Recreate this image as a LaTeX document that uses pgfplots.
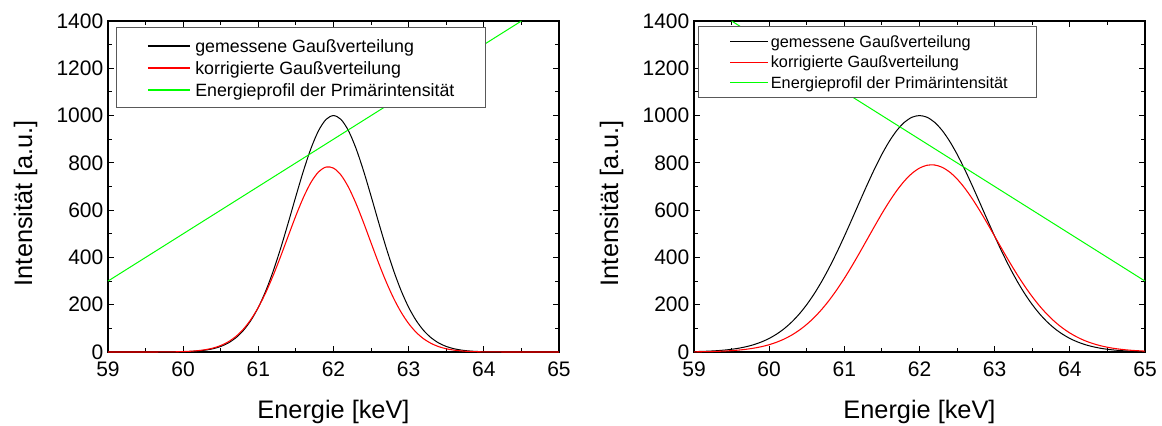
\documentclass[border=0pt]{standalone}
\usepackage{fontspec}
\setmainfont{Liberation Sans}
\usepackage{pgfplots}
\usepackage{pgfplotstable}
\pgfplotsset{compat=1.18}

\definecolor{primgreen}{RGB}{0,255,0}
\definecolor{corrred}{RGB}{255,0,0}

% measured Gaussian, primary intensity rising with energy
\pgfplotstableread{
x y
59.0 0
59.5 0
59.6 0.1
59.7 0.2
59.8 0.3
59.9 0.6
60.0 1.3
60.1 2.4
60.2 4.5
60.3 8.1
60.4 14.0
60.5 23.5
60.6 38.1
60.7 59.8
60.8 90.7
60.9 133.1
61.0 188.9
61.1 259.2
61.2 344.2
61.3 441.9
61.4 548.8
61.5 659.2
61.6 765.9
61.7 860.7
61.8 935.5
61.9 983.5
62.0 1000
62.1 983.5
62.2 935.5
62.3 860.7
62.4 765.9
62.5 659.2
62.6 548.8
62.7 441.9
62.8 344.2
62.9 259.2
63.0 188.9
63.1 133.1
63.2 90.7
63.3 59.8
63.4 38.1
63.5 23.5
63.6 14.0
63.7 8.1
63.8 4.5
63.9 2.4
64.0 1.3
64.1 0.6
64.2 0.3
64.3 0.2
64.4 0.1
64.5 0
65.0 0
}\leftmeasured

\pgfplotstableread{
x y
59.0 0
59.5 0
59.6 0.1
59.7 0.2
59.8 0.5
59.9 0.9
60.0 1.8
60.1 3.3
60.2 5.9
60.3 10.1
60.4 16.9
60.5 27.4
60.6 43.1
60.7 65.4
60.8 96.2
60.9 137.0
61.0 188.9
61.1 252.0
61.2 325.6
61.3 407.0
61.4 492.5
61.5 576.8
61.6 653.8
61.7 717.3
61.8 761.4
61.9 782.3
62.0 777.8
62.1 748.3
62.2 696.6
62.3 627.6
62.4 547.1
62.5 461.4
62.6 376.6
62.7 297.4
62.8 227.3
62.9 168.0
63.0 120.2
63.1 83.2
63.2 55.7
63.3 36.1
63.4 22.6
63.5 13.7
63.6 8.0
63.7 4.6
63.8 2.5
63.9 1.3
64.0 0.7
64.1 0.3
64.2 0.2
64.3 0.1
64.5 0
65.0 0
}\leftcorrected

\pgfplotstableread{
x y
59.0 300
64.5 1400
}\leftprimary

% measured Gaussian, primary intensity falling with energy
\pgfplotstableread{
x y
59.0 1.6
59.1 2.5
59.2 3.7
59.3 5.5
59.4 8.0
59.5 11.5
59.6 16.3
59.7 22.9
59.8 31.5
59.9 42.9
60.0 57.4
60.1 75.9
60.2 98.8
60.3 126.9
60.4 160.6
60.5 200.5
60.6 246.6
60.7 299.1
60.8 357.5
60.9 421.4
61.0 489.5
61.1 560.7
61.2 633.1
61.3 704.7
61.4 773.2
61.5 836.5
61.6 892.0
61.7 937.7
61.8 971.8
61.9 992.9
62.0 1000
62.1 992.9
62.2 971.8
62.3 937.7
62.4 892.0
62.5 836.5
62.6 773.2
62.7 704.7
62.8 633.1
62.9 560.7
63.0 489.5
63.1 421.4
63.2 357.5
63.3 299.1
63.4 246.6
63.5 200.5
63.6 160.6
63.7 126.9
63.8 98.8
63.9 75.9
64.0 57.4
64.1 42.9
64.2 31.5
64.3 22.9
64.4 16.3
64.5 11.5
64.6 8.0
64.7 5.5
64.8 3.7
64.9 2.5
65.0 1.6
}\rightmeasured

\pgfplotstableread{
x y
59.0 0.8
59.1 1.2
59.2 1.8
59.3 2.7
59.4 3.9
59.5 5.8
59.6 8.3
59.7 11.8
59.8 16.5
59.9 22.7
60.0 30.9
60.1 41.5
60.2 54.9
60.3 71.6
60.4 92.2
60.5 117.0
60.6 146.3
60.7 180.5
60.8 219.5
60.9 263.4
61.0 311.5
61.1 363.4
61.2 418.1
61.3 474.3
61.4 530.6
61.5 585.6
61.6 637.1
61.7 683.7
61.8 723.7
61.9 755.5
62.0 777.8
62.1 789.8
62.2 791.0
62.3 781.4
62.4 761.5
62.5 731.9
62.6 693.9
62.7 649.1
62.8 598.9
62.9 545.1
63.0 489.5
63.1 433.8
63.2 379.2
63.3 327.1
63.4 278.4
63.5 233.9
63.6 193.8
63.7 158.6
63.8 128.1
63.9 102.2
64.0 80.4
64.1 62.6
64.2 47.9
64.3 36.4
64.4 27.2
64.5 20.1
64.6 14.7
64.7 10.7
64.8 7.6
64.9 5.5
65.0 3.7
}\rightcorrected

\pgfplotstableread{
x y
59.5 1400
65.0 300
}\rightprimary

\pgfplotsset{
  spectrum/.style={
    scale only axis, width=338.25pt, height=248.25pt,
    xmin=59, xmax=65, ymin=0, ymax=1400,
    xtick={59,60,...,65}, ytick={0,200,...,1400},
    minor tick num=1,
    tick align=inside,
    major tick length=4.7pt, minor tick length=3pt,
    tick style={black, line width=0.75pt},
    axis line style={line width=1.3pt},
    /pgf/number format/assume math mode=true,
    /pgf/number format/1000 sep={},
    tick label style={font=\fontsize{15.75}{18}\selectfont},
    xticklabel style={yshift=-4pt},
    xlabel={Energie [keV]}, ylabel={Intensität [a.u.]},
    every axis x label/.style={at={(axis description cs:0.5,-0.1994)}, anchor=base,
      font=\fontsize{19}{22}\selectfont},
    every axis y label/.style={at={(axis description cs:-0.1685,0.45)}, anchor=base, rotate=90,
      font=\fontsize{19}{22}\selectfont},
    clip=false,
    legend cell align=left,
  },
  measured/.style={draw=black, line width=0.75pt, smooth, mark=none},
  corrected/.style={draw=corrred, line width=0.8pt, smooth, mark=none},
  primary/.style={draw=primgreen, line width=0.75pt, mark=none},
}

\begin{document}
\begin{tikzpicture}
\useasboundingbox (-81pt,-54.75pt) rectangle (790.5pt,264pt);

% left panel: primary intensity rising with energy
\begin{axis}[spectrum, at={(0pt,0pt)},
  legend style={at={(axis description cs:0.0177,0.981)}, anchor=north west,
    draw=black!65, line width=0.75pt, fill=white,
    inner xsep=23pt, inner ysep=5.25pt, column sep=3.75pt, row sep=0pt,
    font=\fontsize{13.35}{16}\selectfont,
    nodes={inner sep=0pt, text height=13.625pt, text depth=2.875pt}},
  legend image code/.code={\draw[#1, line width=1.1pt] (0pt,0pt) -- (31.25pt,0pt);},
]
\addplot[measured] table {\leftmeasured};
\addlegendentry{\makebox[195pt][l]{gemessene Gaußverteilung}}
\addplot[corrected] table {\leftcorrected};
\addlegendentry{\makebox[195pt][l]{korrigierte Gaußverteilung}}
\addplot[primary] table {\leftprimary};
\addlegendentry{\makebox[195pt][l]{Energieprofil der Primärintensität}}
\end{axis}

% right panel: primary intensity falling with energy
\begin{axis}[spectrum, at={(439.5pt,0pt)},
  legend style={at={(axis description cs:0.0095,0.985)}, anchor=north west,
    draw=black!65, line width=0.75pt, fill=white,
    inner xsep=23.25pt, inner ysep=4.025pt, column sep=1.5pt, row sep=0pt,
    font=\fontsize{12.2}{15}\selectfont,
    nodes={inner sep=0pt, text height=11.975pt, text depth=3.175pt}},
  legend image code/.code={\draw[#1] (0pt,0pt) -- (28.5pt,0pt);},
]
\addplot[measured] table {\rightmeasured};
\addlegendentry{\makebox[176.25pt][l]{gemessene Gaußverteilung}}
\addplot[corrected] table {\rightcorrected};
\addlegendentry{\makebox[176.25pt][l]{korrigierte Gaußverteilung}}
\addplot[primary] table {\rightprimary};
\addlegendentry{\makebox[176.25pt][l]{Energieprofil der Primärintensität}}
\end{axis}
\end{tikzpicture}
\end{document}
